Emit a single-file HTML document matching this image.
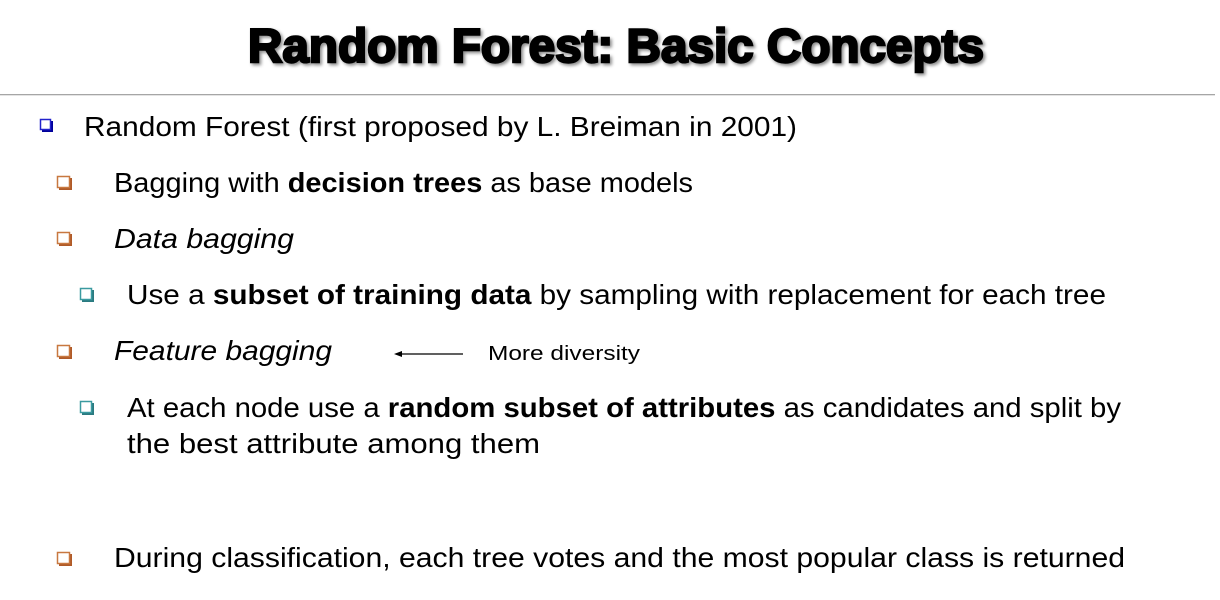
<!DOCTYPE html>
<html><head><meta charset="utf-8"><style>
html,body{margin:0;padding:0;background:#fff;width:1220px;height:600px;overflow:hidden}
svg{display:block}
text{font-family:"Liberation Sans",sans-serif;fill:#000}
</style></head><body>
<svg width="1220" height="600" viewBox="0 0 1220 600">
<defs>
<filter id="sh" x="-5%" y="-20%" width="110%" height="150%"><feDropShadow dx="2" dy="2" stdDeviation="1.5" flood-color="#000" flood-opacity="0.45"/></filter>
</defs>
<text x="248" y="62" font-size="47" font-weight="bold" stroke="#000" stroke-width="2.4" textLength="736" lengthAdjust="spacingAndGlyphs" filter="url(#sh)">Random Forest: Basic Concepts</text>
<rect x="0" y="94" width="1215" height="1.3" fill="#a6a6a6"/>

<g><rect x="42" y="121" width="11" height="11" fill="#00009a"/><rect x="40.5" y="119.5" width="10" height="10" fill="#fff" stroke="#2222cc" stroke-width="1.5"/></g>
<text x="84" y="136" font-size="28" textLength="713" lengthAdjust="spacingAndGlyphs">Random Forest (first proposed by L. Breiman in 2001)</text>

<g><rect x="59" y="178" width="13" height="12" fill="#b05a28"/><rect x="57.5" y="176.5" width="12" height="11" fill="#fff" stroke="#c87840" stroke-width="1.5"/></g>
<text x="114" y="192" font-size="28" textLength="579" lengthAdjust="spacingAndGlyphs">Bagging with <tspan font-weight="bold">decision trees</tspan> as base models</text>

<g><rect x="59" y="234" width="13" height="12" fill="#b05a28"/><rect x="57.5" y="232.5" width="12" height="11" fill="#fff" stroke="#c87840" stroke-width="1.5"/></g>
<text x="114" y="248" font-size="28" font-style="italic" textLength="180" lengthAdjust="spacingAndGlyphs">Data bagging</text>

<g><rect x="82" y="290" width="12" height="12" fill="#2a7a80"/><rect x="80.5" y="288.5" width="11" height="11" fill="#fff" stroke="#3a9aa0" stroke-width="1.5"/></g>
<text x="127" y="304" font-size="28" textLength="979" lengthAdjust="spacingAndGlyphs">Use a <tspan font-weight="bold">subset of training data</tspan> by sampling with replacement for each tree</text>

<g><rect x="59" y="347" width="13" height="12" fill="#b05a28"/><rect x="57.5" y="345.5" width="12" height="11" fill="#fff" stroke="#c87840" stroke-width="1.5"/></g>
<text x="114" y="360" font-size="28" font-style="italic" textLength="218" lengthAdjust="spacingAndGlyphs">Feature bagging</text>
<g><line x1="400" y1="354" x2="463" y2="354" stroke="#000" stroke-width="1.3"/><polygon points="394,354 402,351 402,357" fill="#000"/></g>
<text x="488" y="360" font-size="20" textLength="152" lengthAdjust="spacingAndGlyphs">More diversity</text>

<g><rect x="82" y="403" width="12" height="12" fill="#2a7a80"/><rect x="80.5" y="401.5" width="11" height="11" fill="#fff" stroke="#3a9aa0" stroke-width="1.5"/></g>
<text x="127" y="417" font-size="28" textLength="994" lengthAdjust="spacingAndGlyphs">At each node use a <tspan font-weight="bold">random subset of attributes</tspan> as candidates and split by</text>
<text x="127" y="453" font-size="28" textLength="413" lengthAdjust="spacingAndGlyphs">the best attribute among them</text>

<g><rect x="59" y="554" width="13" height="12" fill="#b05a28"/><rect x="57.5" y="552.5" width="12" height="11" fill="#fff" stroke="#c87840" stroke-width="1.5"/></g>
<text x="114" y="567" font-size="28" textLength="1011" lengthAdjust="spacingAndGlyphs">During classification, each tree votes and the most popular class is returned</text>
</svg>
</body></html>
